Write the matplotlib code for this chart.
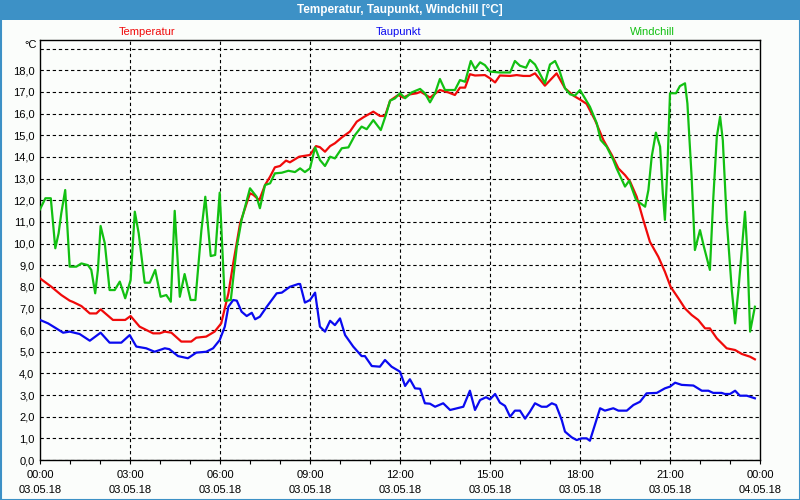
import matplotlib
matplotlib.use("Agg")
import matplotlib.pyplot as plt
from matplotlib.patches import Rectangle
from matplotlib.ticker import MultipleLocator, FixedLocator

# ---------------- data ----------------
series_names = ["Temperatur", "Taupunkt", "Windchill"]
x_tick_hours = [0, 3, 6, 9, 12, 15, 18, 21, 24]
x_tick_labels = ["00:00\n03.05.18", "03:00\n03.05.18", "06:00\n03.05.18",
                 "09:00\n03.05.18", "12:00\n03.05.18", "15:00\n03.05.18",
                 "18:00\n03.05.18", "21:00\n03.05.18", "00:00\n04.05.18"]
y_tick_values = list(range(0, 19))
y_tick_labels = [f"{v},0" for v in y_tick_values]

temp_t = [0, 0.38, 0.71, 0.99, 1.1, 1.38, 1.66, 1.88, 2.02, 2.43, 2.84, 3.02, 3.32, 3.77, 3.99,
          4.16, 4.38, 4.71, 5.04, 5.21, 5.54, 5.82, 6.04, 6.28, 6.44, 6.67, 6.89, 7.0, 7.11, 7.31,
          7.5, 7.67, 7.83, 8.0, 8.2, 8.33, 8.64, 9.0, 9.2, 9.33, 9.5, 9.67, 9.83, 10.06, 10.33,
          10.56, 10.78, 11.11, 11.33, 11.5, 11.67, 11.94, 12.11, 12.33, 12.56, 12.69, 12.83, 13.0,
          13.33, 13.61, 13.83, 14.0, 14.17, 14.33, 14.5, 14.83, 15.0, 15.17, 15.33, 15.67, 15.89,
          16.11, 16.33, 16.5, 16.83, 17.22, 17.5, 17.78, 18.0, 18.22, 18.5, 18.78, 19.06, 19.28,
          19.5, 19.67, 19.89, 20.11, 20.33, 20.61, 20.83, 21.02, 21.28, 21.5, 21.72, 21.94, 22.17,
          22.33, 22.56, 22.89, 23.17, 23.39, 23.67, 23.83]
temp_v = [8.39, 8.0, 7.62, 7.36, 7.3, 7.11, 6.77, 6.77, 6.96, 6.47, 6.47, 6.65, 6.16, 5.85, 5.85,
          5.93, 5.88, 5.47, 5.47, 5.65, 5.7, 5.93, 6.31, 7.7, 9.08, 10.93, 11.86, 12.32, 12.25, 12.0,
          12.7, 13.09, 13.52, 13.58, 13.83, 13.75, 14.01, 14.09, 14.5, 14.45, 14.24, 14.5, 14.63,
          14.9, 15.17, 15.63, 15.83, 16.09, 15.89, 15.89, 16.6, 16.86, 16.74, 16.89, 16.94, 17.01,
          16.89, 16.74, 17.09, 16.98, 16.86, 17.2, 17.2, 17.82, 17.76, 17.78, 17.63, 17.44, 17.76,
          17.74, 17.78, 17.74, 17.74, 17.86, 17.29, 17.86, 17.17, 16.83, 16.65, 16.45, 15.7, 14.78,
          14.09, 13.47, 13.16, 12.86, 12.16, 11.09, 10.08, 9.39, 8.7, 8.0, 7.47, 7.0, 6.7, 6.47,
          6.08, 6.08, 5.62, 5.16, 5.08, 4.9, 4.77, 4.65]

dew_t = [0, 0.27, 0.54, 0.77, 0.99, 1.32, 1.66, 2.02, 2.32, 2.71, 2.99, 3.21, 3.54, 3.82, 4.16,
         4.31, 4.6, 4.93, 5.21, 5.54, 5.77, 5.99, 6.16, 6.28, 6.44, 6.56, 6.72, 6.89, 7.06, 7.17,
         7.33, 7.56, 7.89, 8.06, 8.33, 8.61, 8.67, 8.83, 9.0, 9.17, 9.33, 9.5, 9.67, 9.83, 10.0,
         10.17, 10.44, 10.72, 10.83, 11.06, 11.33, 11.5, 11.72, 12.0, 12.17, 12.33, 12.5, 12.67,
         12.83, 13.0, 13.17, 13.44, 13.67, 14.11, 14.33, 14.5, 14.67, 14.87, 15.0, 15.17, 15.33,
         15.5, 15.67, 15.83, 16.0, 16.17, 16.33, 16.5, 16.72, 16.89, 17.06, 17.2, 17.39, 17.5,
         17.72, 17.89, 18.06, 18.22, 18.33, 18.67, 18.83, 19.11, 19.28, 19.56, 19.78, 20.0, 20.22,
         20.56, 20.83, 21.0, 21.17, 21.39, 21.78, 22.06, 22.28, 22.44, 22.72, 22.83, 23.0, 23.17,
         23.33, 23.56, 23.83]
dew_v = [6.47, 6.31, 6.08, 5.88, 5.93, 5.82, 5.51, 5.88, 5.42, 5.42, 5.77, 5.24, 5.16, 5.0, 5.16,
         5.12, 4.8, 4.7, 4.96, 5.0, 5.16, 5.54, 6.16, 7.08, 7.39, 7.36, 6.85, 6.65, 6.8, 6.5,
         6.62, 7.08, 7.7, 7.73, 8.0, 8.13, 8.13, 7.27, 7.39, 7.73, 6.16, 5.93, 6.43, 6.23, 6.54,
         5.77, 5.24, 4.8, 4.8, 4.34, 4.31, 4.62, 4.31, 4.08, 3.42, 3.73, 3.31, 3.29, 2.62, 2.6,
         2.46, 2.62, 2.31, 2.46, 3.2, 2.31, 2.77, 2.9, 2.8, 3.05, 2.65, 2.5, 2.0, 2.28, 2.28,
         1.91, 2.23, 2.62, 2.46, 2.46, 2.62, 2.54, 1.85, 1.31, 1.05, 0.92, 1.0, 1.0, 0.89, 2.39,
         2.28, 2.39, 2.28, 2.28, 2.54, 2.69, 3.08, 3.1, 3.31, 3.39, 3.57, 3.47, 3.44, 3.2, 3.2,
         3.1, 3.1, 3.05, 3.05, 3.2, 2.97, 2.97, 2.85]

wind_t = [0, 0.18, 0.36, 0.51, 0.62, 0.71, 0.84, 0.99, 1.21, 1.38, 1.6, 1.71, 1.84, 1.93, 2.02,
          2.16, 2.32, 2.49, 2.66, 2.84, 3.02, 3.16, 3.29, 3.49, 3.66, 3.84, 4.02, 4.21, 4.36, 4.49,
          4.66, 4.82, 5.02, 5.18, 5.38, 5.51, 5.69, 5.84, 5.99, 6.16, 6.36, 6.56, 6.72, 7.0, 7.22,
          7.33, 7.5, 7.67, 7.83, 8.06, 8.28, 8.5, 8.67, 8.83, 9.0, 9.17, 9.33, 9.5, 9.67, 9.83,
          10.06, 10.28, 10.5, 10.72, 10.89, 11.11, 11.36, 11.53, 11.67, 11.83, 12.0, 12.17, 12.39,
          12.67, 12.83, 13.0, 13.17, 13.33, 13.5, 13.83, 14.0, 14.17, 14.36, 14.5, 14.67, 14.83,
          15.0, 15.33, 15.67, 15.83, 16.0, 16.2, 16.33, 16.5, 16.83, 17.0, 17.17, 17.31, 17.5,
          17.67, 17.83, 18.0, 18.33, 18.56, 18.69, 18.89, 19.11, 19.22, 19.5, 19.64, 19.87, 20.17,
          20.28, 20.39, 20.53, 20.67, 20.76, 20.83, 20.91, 21.0, 21.2, 21.33, 21.5, 21.58, 21.72,
          21.83, 22.0, 22.13, 22.33, 22.44, 22.56, 22.67, 22.76, 22.89, 23.06, 23.17, 23.28,
          23.44, 23.5, 23.58, 23.67, 23.83]
wind_v = [11.58, 12.09, 12.09, 9.78, 10.47, 11.4, 12.47, 8.93, 8.93, 9.08, 9.0, 8.78, 7.7, 8.78,
          10.81, 10.01, 7.85, 7.85, 8.24, 7.47, 8.31, 11.47, 10.47, 8.19, 8.19, 8.78, 7.54, 7.62,
          7.31, 11.51, 7.54, 8.59, 7.39, 7.39, 10.62, 12.16, 9.42, 9.47, 12.35, 7.35, 7.39, 9.85,
          11.09, 12.55, 12.16, 11.63, 12.7, 12.78, 13.24, 13.27, 13.36, 13.3, 13.47, 13.3, 13.47,
          14.44, 13.86, 13.58, 14.01, 13.93, 14.4, 14.44, 15.01, 15.4, 15.28, 15.7, 15.24, 15.94,
          16.6, 16.7, 16.94, 16.71, 16.98, 17.14, 16.94, 16.52, 16.94, 17.6, 17.09, 17.09, 17.55,
          17.47, 18.43, 18.06, 18.37, 18.24, 17.94, 17.9, 17.9, 18.43, 18.21, 18.12, 18.48, 18.27,
          17.4, 18.27, 18.43, 18.01, 17.17, 16.89, 16.83, 17.09, 16.32, 15.55, 14.78, 14.47,
          13.86, 13.47, 12.63, 12.9, 12.01, 11.7, 12.47, 14.01, 15.12, 14.47, 12.32, 11.09, 13.39,
          16.94, 16.94, 17.27, 17.4, 16.47, 13.09, 9.7, 10.62, 9.85, 8.78, 12.01, 14.93, 15.86,
          14.78, 11.09, 7.85, 6.31, 7.85, 10.47, 11.47, 9.55, 5.93, 7.08]

# ---------------- style ----------------
BG = "#FBFDFB"
BAR = "#3D91C6"
C_TEMP = "#F00A0A"
C_DEW = "#0A0AF0"
C_WIND = "#12C012"
FONT = ["Liberation Sans", "DejaVu Sans"]
plt.rcParams["font.family"] = FONT

fig = plt.figure(figsize=(8, 5), dpi=100, facecolor=BG)
ax = fig.add_axes([40 / 800, 40 / 500, 720 / 800, 420 / 500])
ax.set_facecolor(BG)

# title bar and frame
fig.patches.append(Rectangle((0, 1 - 20 / 500), 1, 20 / 500, transform=fig.transFigure,
                             facecolor=BAR, edgecolor="none", zorder=0))
fig.patches.append(Rectangle((0.5 / 800, 0.5 / 500), 799 / 800, 499 / 500, transform=fig.transFigure,
                             facecolor="none", edgecolor=BAR, linewidth=1.5, zorder=0))
fig.text(0.5, 1 - 10 / 500, "Temperatur, Taupunkt, Windchill [°C]", color="white",
         ha="center", va="center", fontsize=8.5, fontweight="bold",
         family=["Liberation Sans Narrow", "Liberation Sans", "DejaVu Sans"])

# legend labels
for name, col, xp in zip(series_names, [C_TEMP, C_DEW, C_WIND], [147, 399, 652]):
    fig.text(xp / 800, 1 - 32 / 500, name, color=col, ha="center", va="center", fontsize=8)

# lines
ax.plot(dew_t, dew_v, color=C_DEW, lw=1.6, zorder=3)
ax.plot(temp_t, temp_v, color=C_TEMP, lw=1.6, zorder=4)
ax.plot(wind_t, wind_v, color=C_WIND, lw=1.6, zorder=5)

ax.set_xlim(0, 24)
ax.set_ylim(0, 19.4)

ax.xaxis.set_major_locator(FixedLocator(x_tick_hours))
ax.set_xticklabels(x_tick_labels, fontsize=8, linespacing=1.6)
ax.xaxis.set_minor_locator(MultipleLocator(1))
ax.tick_params(axis="x", which="both", direction="out", length=3, width=0.8, pad=4, colors="black")

ax.yaxis.set_major_locator(FixedLocator(y_tick_values))
ax.set_yticklabels(y_tick_labels, fontsize=8)
ax.tick_params(axis="y", length=0, pad=4)

# grid (include 19 line)
for yv in list(y_tick_values) + [19]:
    ax.axhline(yv, color="black", lw=0.8, ls=(0, (3, 2.5)), zorder=1)
for xv in x_tick_hours[1:-1]:
    ax.axvline(xv, color="black", lw=0.8, ls=(0, (3, 2.5)), zorder=1)

for sp in ax.spines.values():
    sp.set_color("black")
    sp.set_linewidth(1.0)

fig.text(37 / 800, 1 - 45 / 500, "°C", ha="right", va="center", fontsize=8)

fig.savefig("out.png", dpi=100, facecolor=BG)
